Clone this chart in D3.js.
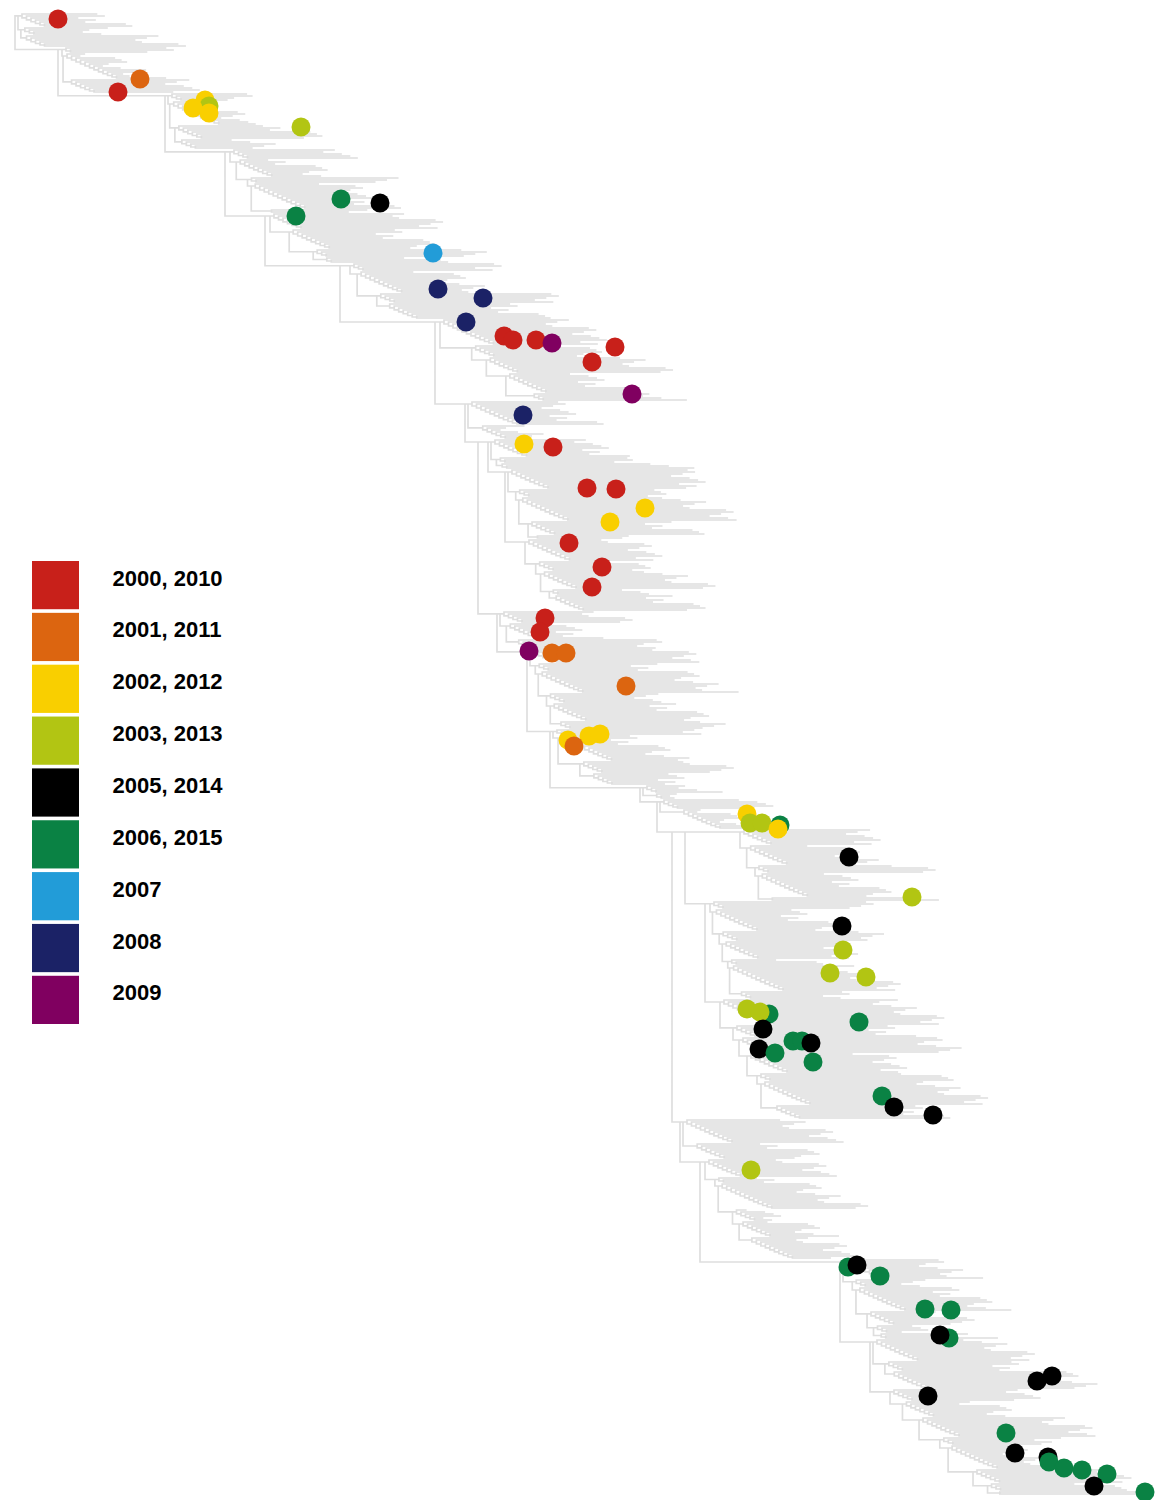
<!DOCTYPE html>
<html>
<head>
<meta charset="utf-8">
<script src="https://cdn.jsdelivr.net/npm/d3@7"></script>
<style>
  html, body { margin: 0; padding: 0; background: #ffffff; }
  svg { display: block; }
</style>
</head>
<body>
<svg id="chart" width="1162" height="1500"></svg>
<script>
// ---- legend classes (collection year) ----
const yearLabels = ["2000, 2010", "2001, 2011", "2002, 2012", "2003, 2013", "2005, 2014",
                    "2006, 2015", "2007", "2008", "2009"];
const yearColors = ["#c8201a", "#dc6510", "#f9cf00", "#b2c513", "#000000",
                    "#0a8244", "#229cd8", "#1b2266", "#800060"];

// ---- highlighted isolates: [divergence, tip row, year class] ----
const isolates = [
  [4.3, 2.5, 0], [12.5, 32.5, 1], [10.3, 39, 0],
  [19.0, 43, 2], [19.4, 46, 3], [17.8, 47, 2], [19.4, 49.5, 2], [28.6, 56.5, 3],
  [32.6, 92.5, 5], [36.5, 94.5, 4], [28.1, 101, 5],
  [41.8, 119.5, 6], [42.3, 137.5, 7], [46.8, 142, 7], [45.1, 154, 7],
  [48.9, 161, 0], [49.8, 163, 0], [52.1, 163, 0], [53.7, 164.5, 8], [60.0, 166.5, 0],
  [57.7, 174, 0], [61.7, 190, 8],
  [50.8, 200.5, 7], [50.9, 215, 2], [53.8, 216.5, 0],
  [57.2, 237, 0], [60.1, 237.5, 0], [63.0, 247, 2], [59.5, 254, 2],
  [55.4, 264.5, 0], [58.7, 276.5, 0], [57.7, 286.5, 0],
  [53.0, 302, 0], [52.5, 309, 0], [51.4, 318.5, 8], [53.7, 319.5, 1], [55.1, 319.5, 1],
  [61.1, 336, 1],
  [55.3, 363, 2], [57.4, 361, 2], [58.5, 360, 2], [55.9, 366, 1],
  [73.2, 400, 2], [73.5, 404.5, 3], [74.7, 404.5, 3], [76.5, 405.5, 5], [76.3, 407.5, 2],
  [83.4, 421.5, 4], [89.7, 441.5, 3],
  [82.7, 456, 4], [82.8, 468, 3], [81.5, 479.5, 3], [85.1, 481.5, 3],
  [75.4, 500, 5], [73.2, 497.5, 3], [74.5, 499, 3], [84.4, 504, 5],
  [74.8, 507.5, 4], [74.4, 517.5, 4], [76.0, 519.5, 5],
  [77.8, 513.5, 5], [78.7, 513.5, 5], [79.6, 514.5, 4], [79.8, 524, 5],
  [86.7, 541, 5], [87.9, 546.5, 4], [91.8, 550.5, 4],
  [73.6, 578, 3],
  [83.3, 626.5, 5], [84.2, 625.5, 4], [86.5, 631, 5],
  [91.0, 647.5, 5], [93.6, 648, 5], [93.4, 662, 5], [92.5, 660.5, 4],
  [102.2, 683.5, 4], [103.7, 681, 4], [91.3, 691, 4],
  [99.1, 709.5, 5], [100.0, 719.5, 4], [103.3, 721.5, 4], [103.4, 724, 5],
  [104.9, 727, 5], [106.7, 728, 5], [109.2, 730, 5], [107.9, 736, 4], [113.0, 739, 5]
];

// ---- clades hanging off the backbone ----
// [first row, end row, stem div at top, stem div at bottom, tip div at top, tip div at bottom]
const clades = [
  [0, 17, 0.3, 1, 9.5, 15.5],
  [17, 40, 4.7, 5.5, 15, 16],
  [40, 68, 15.3, 16.5, 23, 31.5],
  [68, 100, 21.5, 25.5, 32.5, 41],
  [100, 125, 25.5, 31.5, 41, 47],
  [125, 153, 33.5, 38.5, 48, 55],
  [153, 194, 42.5, 52.5, 57, 68],
  [194, 213, 45.3, 47, 55, 55.5],
  [213, 228, 47.6, 48.5, 59, 67],
  [228, 263, 49.3, 52, 67.5, 69],
  [263, 299, 51, 54.5, 63, 70],
  [299, 318, 48.5, 50.5, 59, 64],
  [318, 358, 51.5, 54.5, 67, 70],
  [358, 386, 53.8, 58.5, 68, 69],
  [386, 393, 62.8, 64.5, 69, 71],
  [393, 408, 64.5, 70.5, 74.5, 79],
  [408, 444, 72.5, 75.5, 85.5, 93],
  [444, 493, 69.5, 72.5, 84, 86.5],
  [493, 553, 70.5, 76.5, 90, 96],
  [553, 573, 66.8, 68.5, 79.5, 85],
  [573, 623, 69, 74.5, 80, 82],
  [623, 663, 82.8, 86.5, 93, 97.5],
  [663, 688, 85.8, 88.5, 99.5, 108.5],
  [688, 741, 87.5, 98.5, 101, 114]
];

// ---- backbone: [node divergence, ...children]; a number is a clade index ----
const lowerTail = [66.5, 19, [68.5, 20, [82.5, 21, [85.5, 22, 23]]]];
const lowerHalf = [62.5, 14, [64.2, 15, [65.7, [67.0, 16, [69.0, 17, 18]], lowerTail]]];
const middlePart = [45.0, 7, [46.3, [47.3, 8, [49.0, 9, 10]], [48.2, 11, [51.2, 12, [53.5, 13, lowerHalf]]]]];
const backbone = [0, 0, [4.3, 1, [15.0, 2, [21.0, 3, [25.0, 4, [32.5, 5, [42.0, 6, middlePart]]]]]]];

// sub-clade sizes, per-sub-clade length shifts and per-tip length offsets
const groupSizes = [7, 4, 11, 5, 9, 3, 13, 6, 8, 10, 4, 12];
const groupShift = [0, -3, 1, -5, -1.5, 0.5, -4, 1.5, -2, -6];
const leafSpread = [0, -1.5, 0.8, -2.5, -0.6, 1.2, -1.8, 0.3, -3, 0.9, -1.1, -2.2, 1.5, -0.4, -2.8, 0.6, -1.4, 1, -2, -0.2];
const innerStep = 0.45;   // divergence added per tip along a sub-clade

// ---- scales ----
const x = d3.scaleLinear().domain([0, 114]).range([15, 1155]);
const y = d3.scaleLinear().domain([0, 741]).range([14, 1496]);

// ---- tree construction ----
function buildClade(ci) {
  const [a, b, l0, l1, r0, r1] = clades[ci];
  const n = b - a;
  const stem = t => l0 + (l1 - l0) * t;
  const reach = t => r0 + (r1 - r0) * t;
  const groups = [];
  let i = a, k = ci * 5;
  while (i < b) {
    let e = Math.min(b, i + groupSizes[k % groupSizes.length]);
    if (b - e < 2) e = b;
    groups.push([i, e, groupShift[k % groupShift.length]]);
    k++; i = e;
  }
  const comb = (s, e, x0, shift) => {
    const len = reach((s - a) / n) - x0 - (e - s - 1) * innerStep * 0.5 + shift;
    const nodeAt = (j, xs) => {
      const off = leafSpread[(j * 7 + ci) % leafSpread.length];
      const leaf = { row: j, x: Math.max(xs + 0.8, xs + len + off) };
      if (j === e - 1) return leaf;
      return { x: xs, children: [leaf, nodeAt(j + 1, xs + innerStep)] };
    };
    return nodeAt(s, x0);
  };
  const spineAt = gi => {
    const [s, e, sh] = groups[gi];
    const xs = stem((s - a) / n);
    const g = comb(s, e, xs + 0.4, sh);
    if (gi === groups.length - 1) return g;
    return { x: xs, top: true, children: [g, spineAt(gi + 1)] };
  };
  return spineAt(0);
}

function buildNode(spec) {
  if (typeof spec === "number") return buildClade(spec);
  const [nx, ...kids] = spec;
  return { x: nx, top: true, children: kids.map(buildNode) };
}

const root = d3.hierarchy(buildNode(backbone));
root.eachBefore(d => { d.div = d.parent ? Math.max(d.data.x, d.parent.div) : d.data.x; });
// backbone and clade stems sit at their upper child; small sub-clades at the midpoint
root.eachAfter(d => {
  if (!d.children) d.ypos = y(d.data.row);
  else if (d.data.top) d.ypos = d.children[0].ypos;
  else d.ypos = (d.children[0].ypos + d.children[d.children.length - 1].ypos) / 2;
});

const svg = d3.select("#chart");

// ---- branches ----
const p = d3.path();
root.each(d => {
  const xp = x(d.div);
  if (d.children) {
    p.moveTo(xp, d.children[0].ypos);
    p.lineTo(xp, d.children[d.children.length - 1].ypos);
  }
  if (d.parent) {
    p.moveTo(x(d.parent.div), d.ypos);
    p.lineTo(xp, d.ypos);
  }
});
svg.append("path")
  .attr("d", p.toString())
  .attr("fill", "none")
  .attr("stroke", "#dedede")
  .attr("stroke-width", 1.7)
  .attr("stroke-linecap", "square");

// ---- isolates ----
svg.append("g")
  .selectAll("circle")
  .data(isolates)
  .join("circle")
  .attr("cx", d => x(d[0]))
  .attr("cy", d => y(d[1]))
  .attr("r", 9.5)
  .attr("fill", d => yearColors[d[2]]);

// ---- legend ----
const legend = svg.append("g").attr("transform", "translate(32,561)");
const band = d3.scaleBand().domain(d3.range(yearLabels.length)).range([0, 463]).paddingInner(0.07);
const item = legend.selectAll("g").data(yearLabels).join("g")
  .attr("transform", (d, i) => `translate(0,${band(i)})`);
item.append("rect")
  .attr("width", 47)
  .attr("height", band.bandwidth())
  .attr("fill", (d, i) => yearColors[i]);
item.append("text")
  .attr("x", 80.5)
  .attr("y", band.bandwidth() / 2 + 0.5)
  .attr("font-family", "'Liberation Sans', Arial, Helvetica, sans-serif")
  .attr("font-weight", "bold")
  .attr("font-size", 22)
  .attr("fill", "#000")
  .text(d => d);
</script>
</body>
</html>
